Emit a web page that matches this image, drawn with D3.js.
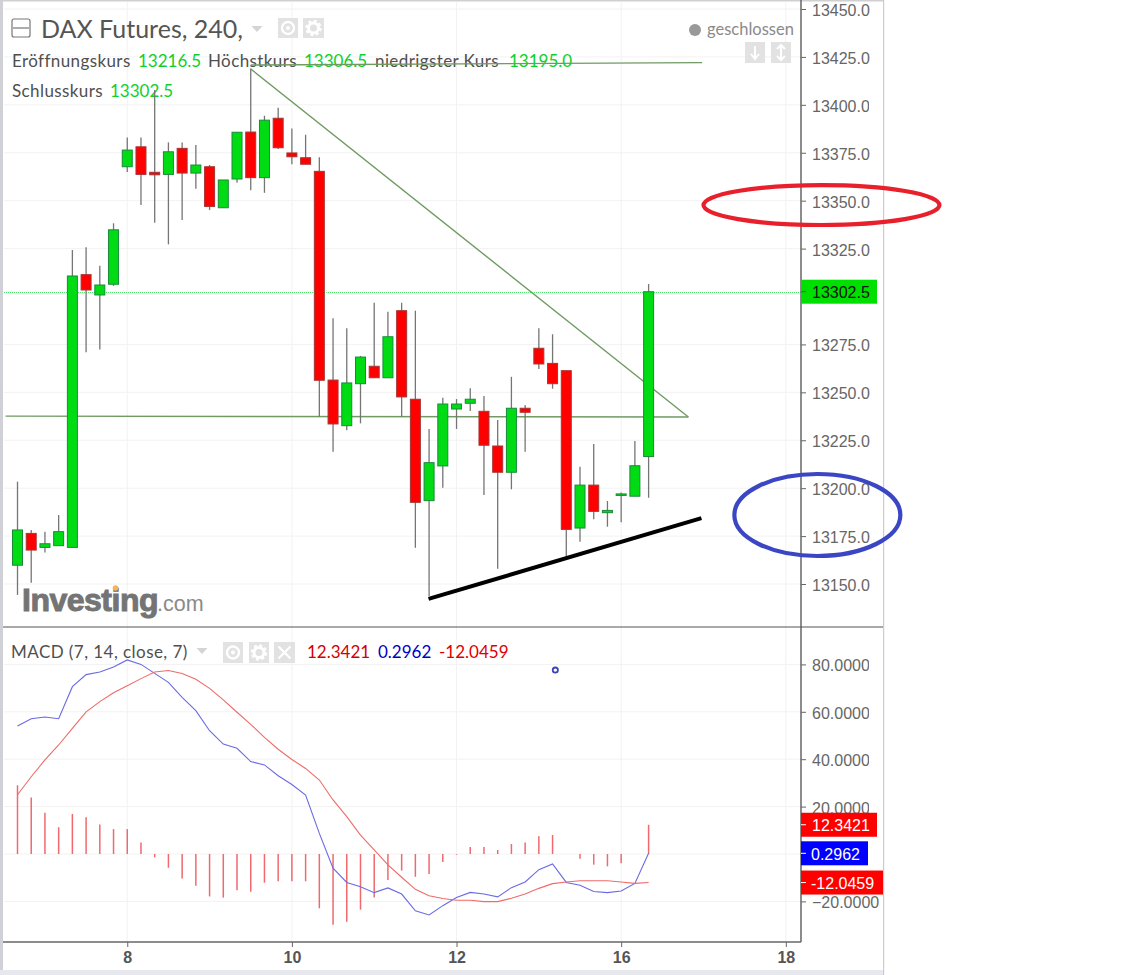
<!DOCTYPE html>
<html><head><meta charset="utf-8">
<script src="https://cdn.jsdelivr.net/npm/d3@7"></script>
<style>html,body{margin:0;padding:0;background:#fff;overflow:hidden}svg{display:block}</style>
</head><body><div id="chart"></div>
<script>
const opens=[13159.8,13176.4,13169.1,13170,13169.1,13311.4,13300.8,13306.4,13367.7,13378.1,13364.8,13363.7,13377.3,13364.4,13367.7,13346.3,13361.3,13385.8,13362,13393,13374.9,13372.4,13365.3,13256.4,13232.6,13254.5,13263.6,13257.6,13292.6,13246.4,13193.5,13211.6,13241.3,13244.3,13240.1,13222,13208.3,13241.7,13273,13265.1,13261.3,13179.2,13201.6,13187.2,13196.3,13195.8,13216.5];
const highs=[13203.4,13178.2,13177.3,13186,13324.2,13325.7,13316,13338.2,13383,13383,13407.7,13380.4,13380.4,13379,13368.6,13360.8,13385.7,13419,13394.3,13398.5,13387.7,13384.4,13372.6,13288.6,13283.4,13269,13296.8,13292,13296.8,13292.6,13230.9,13247.2,13246.5,13252.1,13248.1,13235.6,13258.1,13243.4,13283.4,13280.3,13261.3,13211.2,13223,13193.3,13197.8,13224.6,13306.5];
const lows=[13144.3,13150.7,13166.5,13170,13169,13270.9,13272.4,13305.5,13364.9,13347.7,13338.5,13327.2,13339.9,13356.2,13345.1,13346.3,13359.4,13355.5,13354.1,13376.9,13369,13369,13237.3,13219,13230.2,13233.8,13257.6,13257.6,13237.3,13168.9,13143.7,13200.2,13230.9,13240.3,13196.4,13158,13199.4,13219,13262.2,13251.9,13164.2,13172.1,13183.8,13179.9,13182.2,13195.8,13195];
const closes=[13178.2,13167.7,13171,13177.3,13310.7,13303.4,13306,13334.8,13376.4,13363.7,13363.5,13375.5,13364.4,13368.6,13347,13360.8,13385.7,13362,13392,13377.6,13372.9,13369,13256.3,13233.5,13254.9,13268.4,13257.6,13279,13247.6,13192.6,13213.3,13243.9,13243.9,13246.4,13222.4,13208.3,13241.7,13239.6,13264.8,13254.5,13178.5,13201.6,13187.9,13188.4,13197,13211.7,13302.5];
const macdLine=[54,57.1,57.8,57.1,70.6,75.7,76.8,78.9,81.9,80,76.2,72.4,66.1,60.5,52,46.4,44.6,39,37.6,33,29.3,24.9,8.7,-6,-12,-13.8,-16.3,-14.3,-16.9,-24,-25.7,-21.8,-18.4,-16.2,-16.9,-18.1,-14.2,-11.8,-6.6,-4.2,-12,-13.2,-15.8,-16.3,-15.6,-12.4,0.2962];
const signalLine=[25,32.6,39.7,46,53,60,64.3,68,71,74,76.8,77.4,76.2,73.7,69.9,65,59.8,54.7,49.2,44.2,39.9,36.1,31.2,22.8,15.8,8,1.7,-4.6,-9.8,-14.9,-17.6,-18.8,-19.5,-19.5,-20.1,-20.1,-18.7,-16.9,-14.5,-12.5,-11.8,-11.3,-11.3,-11.3,-11.8,-12.4,-12.0459];
const histogram=[29,23.8,17.4,11.3,16.9,15.5,12.5,10.5,10.5,4.9,-1.4,-5.8,-10.3,-13.4,-17.9,-18.4,-15.3,-15.9,-12.1,-11.5,-11.5,-11.5,-22.9,-29.8,-28.6,-23.5,-18.4,-11,-7,-9.6,-8.4,-3.4,-0.3,3,3,1.7,4.2,4.9,7.5,8,0,-2,-4.5,-5.2,-3.9,0,12.3421];
const priceTicks=[13150,13175,13200,13225,13250,13275,13325,13350,13375,13400,13425,13450,13300];
const macdTicks=[-20,0,20,40,60,80];
const timeTickIndex=[8,20,32,44,56];
const timeTickLabels=["8","10","12","16","18"];
const lastPrice=13302.5;
const macdLabels=[{v:12.3421,c:"#ff0000",t:"12.3421"},{v:0.2962,c:"#0000ff",t:"0.2962"},{v:-12.0459,c:"#ff0000",t:"-12.0459"}];
const greenLines=[[17,13420.8,49.9,13422],[17,13418.7,48.9,13237.1],[-0.87,13237.6,48.9,13237.1]];
const blackLine=[29.96,13142.2,49.85,13184.4];
const ellipses=[{i:58.6,p:13347.7,ri:8.6,rp:10.4,c:"#e8202c"},{i:58.3,p:13186,ri:6.05,rp:21.4,c:"#3b46c4"}];
const marker={i:39.2,v:77.6};

const W=1147,H=975;
const svg=d3.select("#chart").append("svg").attr("width",W).attr("height",H);
const x=d3.scaleLinear().domain([0,56]).range([17.5,785.8]);
const y=d3.scaleLinear().domain([13150,13450]).range([584,9]);
const m=d3.scaleLinear().domain([-20,80]).range([901.4,664.4]);
const axisX=801, sepY=627, botY=942, rightX=883, sans="'Liberation Sans',Arial,sans-serif", ui="Lato,'Open Sans',sans-serif";

// frame
svg.append("rect").attr("x",0).attr("y",0).attr("width",3).attr("height",H).attr("fill","#cfd1d6");
svg.append("rect").attr("x",0).attr("y",0).attr("width",rightX).attr("height",1.5).attr("fill","#d0d0d0");
svg.append("rect").attr("x",rightX).attr("y",0).attr("width",1.2).attr("height",H).attr("fill","#cccccc");
svg.append("rect").attr("x",0).attr("y",970).attr("width",rightX).attr("height",5).attr("fill","#e6e8ee");

// grid
const grid=svg.append("g").attr("stroke","#f2f2f2").attr("stroke-width",1);
grid.selectAll(".hp").data(priceTicks.filter(d=>d!==13300)).join("line").attr("x1",4).attr("x2",axisX).attr("y1",d=>y(d)).attr("y2",d=>y(d));
grid.selectAll(".hm").data(macdTicks).join("line").attr("x1",4).attr("x2",axisX).attr("y1",d=>m(d)).attr("y2",d=>m(d));
grid.selectAll(".v").data(timeTickIndex).join("line").attr("x1",d=>x(d)).attr("x2",d=>x(d)).attr("y1",2).attr("y2",botY);

// price legend
function txt(t,px,py,size,fill,font,extra){const s=svg.append("text").attr("x",px).attr("y",py).attr("font-size",size).attr("fill",fill).attr("font-family",font||ui).text(t);if(extra)s.attr("letter-spacing",extra);return s;}
const gv="#0fd02a", lab="#4f4f4f", ls="0.4";
txt("DAX Futures, 240,",41,38,25,"#555");
txt("Eröffnungskurs",12,67,17,lab,ui,ls);txt("13216.5",138,67,17,gv);
txt("Höchstkurs",208,67,17,lab,ui,ls);txt("13306.5",304,67,17,gv);
txt("niedrigster Kurs",375,67,17,lab,ui,ls);txt("13195.0",509,67,17,gv);
txt("Schlusskurs",12,97,17,lab,ui,ls);txt("13302.5",110,97,17,gv);
txt("geschlossen",707,35,16.5,"#8a8a8a");
svg.append("circle").attr("cx",695).attr("cy",30).attr("r",6).attr("fill","#999");
svg.append("rect").attr("x",12).attr("y",19).attr("width",18).attr("height",18).attr("rx",2).attr("fill","none").attr("stroke","#777").attr("stroke-width",1.2);
svg.append("line").attr("x1",13).attr("x2",29).attr("y1",28).attr("y2",28).attr("stroke","#777").attr("stroke-width",1.2);
function tri(cx,cy){svg.append("path").attr("d",`M${cx-5.5},${cy-3}L${cx+5.5},${cy-3}L${cx},${cy+3}Z`).attr("fill","#d4d4d4");}
function box(bx,by,w,h){svg.append("rect").attr("x",bx).attr("y",by).attr("width",w).attr("height",h).attr("fill","#e2e2e2");}
function eye(cx,cy){svg.append("circle").attr("cx",cx).attr("cy",cy).attr("r",6).attr("fill","none").attr("stroke","#fff").attr("stroke-width",2.4);svg.append("circle").attr("cx",cx).attr("cy",cy).attr("r",2).attr("fill","#fff");}
function gear(cx,cy){svg.append("circle").attr("cx",cx).attr("cy",cy).attr("r",5).attr("fill","none").attr("stroke","#fff").attr("stroke-width",3);svg.append("circle").attr("cx",cx).attr("cy",cy).attr("r",7).attr("fill","none").attr("stroke","#fff").attr("stroke-width",2.5).attr("stroke-dasharray","3 2.5");}
function cross(cx,cy){svg.append("path").attr("d",`M${cx-6},${cy-6}L${cx+6},${cy+6}M${cx+6},${cy-6}L${cx-6},${cy+6}`).attr("stroke","#fff").attr("stroke-width",2.2);}
tri(257,29);box(278,18,20,20);eye(288,28);box(303,18,21,20);gear(313.5,28);
box(745,42,20,21);box(771,42,20,21);
svg.append("path").attr("d","M755,46V59M751,54L755,59L759,54").attr("fill","none").attr("stroke","#fff").attr("stroke-width",2);
svg.append("path").attr("d","M781,45V60M777,49L781,45L785,49M777,56L781,60L785,56").attr("fill","none").attr("stroke","#fff").attr("stroke-width",2);

// MACD legend
txt("MACD (7, 14, close, 7)",11,658,17,lab,ui,"0.45");tri(202,651);
box(223,642,20,21);eye(233,652.5);box(249,642,20,21);gear(259,652.5);box(274,642,21,21);cross(284.5,652.5);
txt("12.3421",307,658,17,"#d40000");txt("0.2962",378,658,17,"#0000c8");txt("-12.0459",439,658,17,"#e00000");

// logo
txt("Investing",22,611,32,"#747474",sans,"-0.5").attr("font-weight","700").attr("stroke","#747474").attr("stroke-width",1);
txt(".com",157,611,21.5,"#8a8a8a",sans);
svg.append("circle").attr("cx",115.5).attr("cy",588).attr("r",2.8).attr("fill","#f5b556");

// last price line
svg.append("line").attr("x1",4).attr("x2",axisX).attr("y1",Math.round(y(lastPrice))+.5).attr("y2",Math.round(y(lastPrice))+.5).attr("stroke","#4fe86a").attr("stroke-width",1).attr("stroke-dasharray","1 1");

// drawn green lines
svg.append("g").selectAll("line").data(greenLines).join("line")
 .attr("x1",d=>x(d[0])).attr("y1",d=>y(d[1])).attr("x2",d=>x(d[2])).attr("y2",d=>y(d[3]))
 .attr("stroke","#6f9a62").attr("stroke-width",1.4);

// candles
const idx=d3.range(opens.length);
const bw=10;
const c=svg.append("g");
c.selectAll(".w").data(idx).join("line").attr("x1",i=>x(i)).attr("x2",i=>x(i)).attr("y1",i=>y(highs[i])).attr("y2",i=>y(lows[i])).attr("stroke","#757575").attr("stroke-width",1.3);
c.selectAll(".b").data(idx).join("rect")
 .attr("x",i=>x(i)-bw/2).attr("width",bw)
 .attr("y",i=>y(Math.max(opens[i],closes[i])))
 .attr("height",i=>Math.max(1.5,Math.abs(y(opens[i])-y(closes[i]))))
 .attr("fill",i=>closes[i]>=opens[i]?"#00dc14":"#ff0000")
 .attr("stroke",i=>closes[i]>=opens[i]?"#1a8a3a":"#a83434").attr("stroke-width",1);

// black support line
svg.append("line").attr("x1",x(blackLine[0])).attr("y1",y(blackLine[1])).attr("x2",x(blackLine[2])).attr("y2",y(blackLine[3])).attr("stroke","#000").attr("stroke-width",4);

// MACD pane
svg.append("g").selectAll("line").data(idx.filter(i=>histogram[i]!==0)).join("line")
 .attr("x1",i=>x(i)).attr("x2",i=>x(i)).attr("y1",m(0)).attr("y2",i=>m(histogram[i]))
 .attr("stroke","#f0696d").attr("stroke-width",1.5);
const ln=a=>d3.line().x((d,i)=>x(i)).y(d=>m(d))(a);
svg.append("path").attr("d",ln(macdLine)).attr("fill","none").attr("stroke","#6a6ae4").attr("stroke-width",1.1);
svg.append("path").attr("d",ln(signalLine)).attr("fill","none").attr("stroke","#ee6c68").attr("stroke-width",1.1);
svg.append("circle").attr("cx",x(marker.i)).attr("cy",m(marker.v)).attr("r",2.6).attr("fill","#fff").attr("stroke","#3b46b4").attr("stroke-width",1.8);

// axes
const styleAxis=(g)=>{
 g.selectAll(".domain").attr("stroke","#666").attr("stroke-width",1.5);
 g.selectAll(".tick line").attr("stroke","#666");
 g.selectAll(".tick text").attr("font-family",sans).attr("font-size",16).attr("fill","#666").attr("dy","0.41em");
};
const defs=svg.append("defs");
defs.append("clipPath").attr("id","tickclip").append("rect").attr("x",-5).attr("y",-15).attr("width",73).attr("height",30);
const yAxis=svg.append("g").attr("transform",`translate(${axisX},0)`)
 .call(d3.axisRight(y).tickValues(priceTicks.filter(d=>d!==13300)).tickFormat(d3.format(".1f")).tickSize(5).tickPadding(6));
yAxis.call(styleAxis);
yAxis.select(".domain").attr("d",`M0,0V${sepY}`);
yAxis.selectAll(".tick").filter(d=>d===13400).select("text").attr("clip-path","url(#tickclip)");
const mAxis=svg.append("g").attr("transform",`translate(${axisX},0)`)
 .call(d3.axisRight(m).tickValues(macdTicks.filter(d=>d!==0)).tickFormat(d3.format(".4f")).tickSize(5).tickPadding(6));
mAxis.call(styleAxis);
mAxis.select(".domain").attr("d",`M0,${sepY}V${botY}`);
mAxis.selectAll(".tick").filter(d=>d>0).select("text").attr("clip-path","url(#tickclip)");
const xAxis=svg.append("g").attr("transform",`translate(0,${botY})`)
 .call(d3.axisBottom(x).tickValues(timeTickIndex).tickFormat((d,i)=>timeTickLabels[i]).tickSize(5).tickPadding(5));
xAxis.call(styleAxis);
xAxis.select(".domain").attr("d",`M3,0H${axisX}`);
xAxis.selectAll(".tick text").attr("font-weight","700").attr("fill","#555").attr("dy","0.71em");
svg.append("line").attr("x1",3).attr("x2",rightX).attr("y1",sepY).attr("y2",sepY).attr("stroke","#555").attr("stroke-width",1.2);

// value labels
const wFor=[76,67,82];
svg.append("rect").attr("x",axisX).attr("y",y(lastPrice)-12).attr("width",76).attr("height",24).attr("fill","#00e000");
svg.append("line").attr("x1",axisX).attr("x2",axisX+5).attr("y1",y(lastPrice)).attr("y2",y(lastPrice)).attr("stroke","#555");
txt(d3.format(".1f")(lastPrice),812,y(lastPrice)+6.5,16,"#111",sans);
macdLabels.forEach((d,i)=>{
 svg.append("rect").attr("x",axisX).attr("y",m(d.v)-12).attr("width",wFor[i]).attr("height",24).attr("fill",d.c);
 svg.append("line").attr("x1",axisX).attr("x2",axisX+5).attr("y1",m(d.v)).attr("y2",m(d.v)).attr("stroke","#fff");
 txt(d.t,i===0?812:811,m(d.v)+6.5,16,"#fff",sans);
});

// hand drawn ellipses
svg.append("g").selectAll("ellipse").data(ellipses).join("ellipse")
 .attr("cx",d=>x(d.i)).attr("cy",d=>y(d.p))
 .attr("rx",d=>x(d.ri)-x(0)).attr("ry",d=>y(13150)-y(13150+d.rp))
 .attr("fill","none").attr("stroke",d=>d.c).attr("stroke-width",4.2);
</script></body></html>
